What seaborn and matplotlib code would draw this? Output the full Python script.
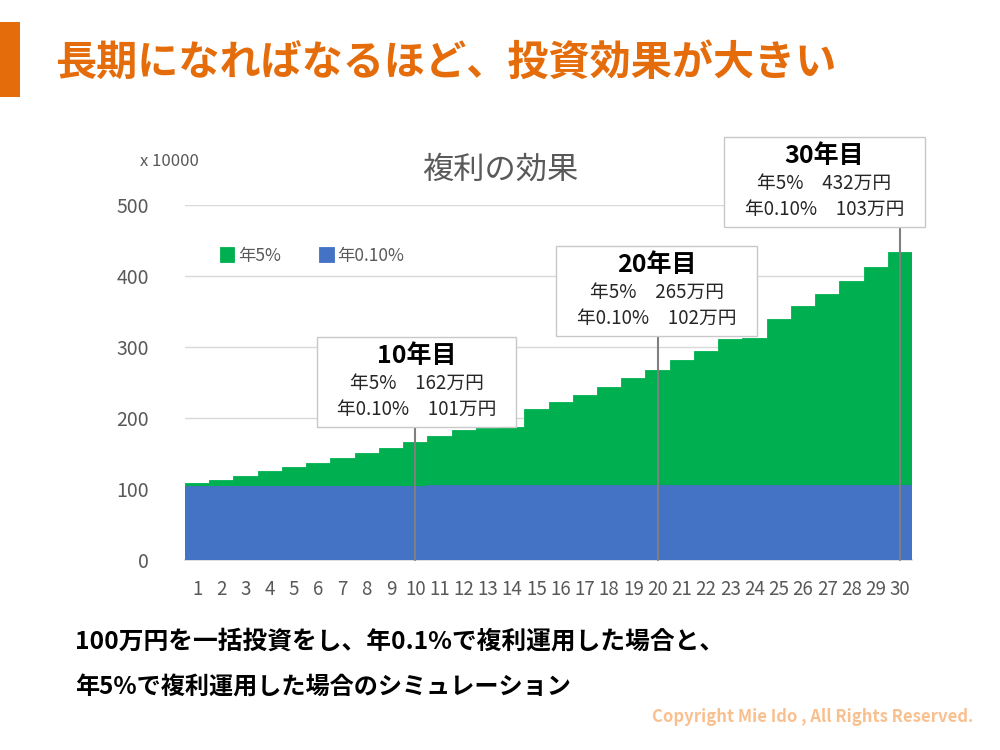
import numpy as np
import pandas as pd
import seaborn as sns
import matplotlib.pyplot as plt
from matplotlib.patches import Rectangle

# data (x 10000 yen)
years = list(range(1, 31))
rate5 = [109, 113, 118, 125, 131, 137, 144, 151, 158, 166,
         174, 183, 186, 187, 212, 222, 232, 244, 256, 268,
         281, 295, 311, 312, 339, 358, 375, 393, 413, 434]
rate01 = [104, 104, 104, 104, 104, 104, 104, 104, 104, 104,
          105, 105, 105, 105, 105, 105, 105, 105, 105, 105,
          106, 106, 106, 106, 106, 106, 106, 106, 106, 106]
series_names = ['年5%', '年0.10%']
mark_years = [10, 20, 30]
mark_lines = [('162万円', '101万円'), ('265万円', '102万円'), ('432万円', '103万円')]

df = pd.DataFrame({'year': years, 'r5': rate5, 'r01': rate01})

sns.set_theme(style='white')
plt.rcParams['font.family'] = ['Noto Sans CJK JP', 'DejaVu Sans']

GREEN = '#00B050'
BLUE = '#4472C4'
GRAY = '#595959'
ORANGE = '#E46C0A'

fig = plt.figure(figsize=(10, 7.5), dpi=100)
W, H = 1000, 750


def fx(px):
    return px / W


def fy(py):
    return 1 - py / H


ax = fig.add_axes([fx(185), fy(560), fx(912) - fx(185), fy(205) - fy(560)])

sns.barplot(data=df, x='year', y='r5', color=GREEN, width=1, saturation=1,
            edgecolor=GREEN, linewidth=0.6, label=series_names[0], ax=ax, zorder=2)
sns.barplot(data=df, x='year', y='r01', color=BLUE, width=1, saturation=1,
            edgecolor=BLUE, linewidth=0.6, label=series_names[1], ax=ax, zorder=3)

ax.set_ylim(0, 500)
ax.set_xlim(-0.5, len(years) - 0.5)
ax.set_yticks(range(0, 501, 100))
ax.yaxis.grid(True, color='#D9D9D9', linewidth=1, zorder=0)
ax.set_axisbelow(True)
for s in ['top', 'right', 'left']:
    ax.spines[s].set_visible(False)
ax.spines['bottom'].set_color('#D9D9D9')
ax.tick_params(axis='both', length=0, colors=GRAY)
ax.tick_params(axis='y', labelsize=14, pad=26)
ax.tick_params(axis='x', labelsize=13.5, pad=14)
ax.set_xlabel('')
ax.set_ylabel('')

leg = ax.legend(loc='upper left', bbox_to_anchor=(fx(204), fy(231)), bbox_transform=fig.transFigure,
                ncol=2, frameon=False, handlelength=0.85, handleheight=0.95,
                handletextpad=0.2, columnspacing=2.2, fontsize=12.5)
for t in leg.get_texts():
    t.set_color(GRAY)

# chart title and unit
fig.text(0.5, fy(170), '複利の効果', ha='center', va='center', fontsize=22.5, color=GRAY)
fig.text(fx(140), fy(162), 'x 10000', ha='left', va='center', fontsize=12, color=GRAY)

# annotation boxes (pixel layout: left, top, right, bottom)
boxes = [(317, 337, 516, 427), (556, 246, 757, 336), (724, 137, 925, 227)]
inv = ax.transData.inverted()
for yr, (v5, v01), (l, t, r, b) in zip(mark_years, mark_lines, boxes):
    pos = years.index(yr)
    ytop = inv.transform(fig.transFigure.transform((0, fy(b))))[1]
    ax.plot([pos, pos], [0, ytop], color='#7F7F7F', linewidth=1.5, zorder=5, clip_on=False)
    fig.patches.append(Rectangle((fx(l), fy(b)), fx(r) - fx(l), fy(t) - fy(b),
                                 transform=fig.transFigure, facecolor='white',
                                 edgecolor='#C8C8C8', linewidth=1, zorder=1))
    cx = fx((l + r) / 2)
    fig.text(cx, fy(t + 19), f'{yr}年目', ha='center', va='center', fontsize=18,
             fontweight='bold', color='black', zorder=4)
    fig.text(cx, fy(t + 46), f'{series_names[0]}　{v5}', ha='center', va='center',
             fontsize=13.5, color='#262626', zorder=4)
    fig.text(cx, fy(t + 72), f'{series_names[1]}　{v01}', ha='center', va='center',
             fontsize=13.5, color='#262626', zorder=4)

# header
fig.patches.append(Rectangle((0, fy(97)), fx(20), fy(22) - fy(97), transform=fig.transFigure,
                             facecolor=ORANGE, edgecolor='none'))
fig.text(fx(55), fy(63), '長期になればなるほど、投資効果が大きい', ha='left', va='center',
         fontsize=29.6, fontweight='bold', color=ORANGE)

# footer
fig.text(fx(75), fy(642), '100万円を一括投資をし、年0.1%で複利運用した場合と、', ha='left', va='center',
         fontsize=17.8, fontweight='bold', color='black')
fig.text(fx(75), fy(688), '年5%で複利運用した場合のシミュレーション', ha='left', va='center',
         fontsize=17.4, fontweight='bold', color='black')
fig.text(fx(973), fy(717), 'Copyright Mie Ido , All Rights Reserved.', ha='right', va='center',
         fontsize=12, fontweight='bold', color='#F9C08F')

fig.savefig('out.png', dpi=100)
